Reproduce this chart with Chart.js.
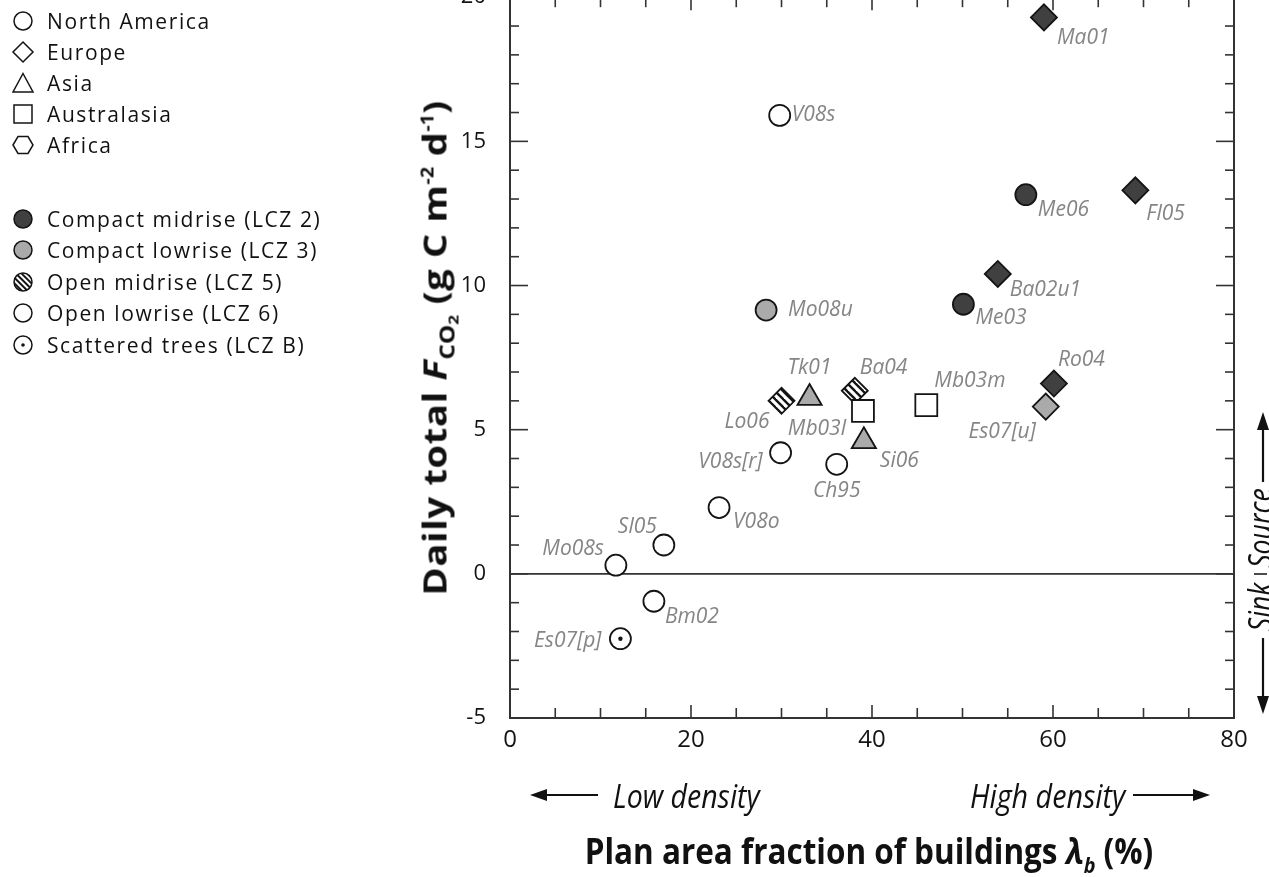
<!DOCTYPE html>
<html>
<head>
<meta charset="utf-8">
<title>Daily total FCO2 versus plan area fraction of buildings</title>
<script src="https://cdn.jsdelivr.net/npm/chart.js@4.4.1/dist/chart.umd.min.js"></script>
<style>
  html, body { margin: 0; padding: 0; background: #fff; }
  body { width: 1269px; height: 877px; position: relative; overflow: hidden; font-family: "Open Sans", sans-serif; color: #111; }
  #wrap { position: absolute; left: 0; top: -40px; width: 1269px; height: 917px; }
  .lg { position: absolute; left: 10px; height: 28px; display: flex; align-items: center; font-size: 21px; letter-spacing: 1.6px; white-space: nowrap; }
  .lg svg { width: 26px; height: 26px; margin-right: 11px; flex: none; }
  .fit { position: absolute; white-space: nowrap; }
  .ytitle { font-weight: 700; font-size: 33px; letter-spacing: 0.5px; }
  .ytitle sub { font-size: 21px; font-weight: 700; vertical-align: -8px; letter-spacing: 0; }
  .ytitle sup { font-size: 17px; font-weight: 700; vertical-align: 13px; letter-spacing: 0; }
  .xtitle { font-weight: 700; font-size: 35px; }
  .xtitle sub { font-size: 22px; font-style: italic; vertical-align: -9px; }
  .note { font-style: italic; font-size: 32px; }
  #arrows { position: absolute; left: 0; top: 0; pointer-events: none; }
</style>
</head>
<body>
<div id="wrap"><canvas id="chart"></canvas></div>
<div id="legend"></div>

<div class="fit ytitle" data-w="495" data-base="translate(-50%, -50%) rotate(-90deg)" style="left:437px; top:348px;">Daily total <i>F</i><sub>CO<sub style="font-size:15px;vertical-align:-4px">2</sub></sub> (g C m<sup>-2</sup> d<sup>-1</sup>)</div>
<div class="fit xtitle" data-w="568" data-base="translate(-50%, -50%)" style="left:869px; top:853px;">Plan area fraction of buildings <i>λ</i><sub>b</sub> (%)</div>

<div class="fit note" data-w="147" style="left:613px; top:795px;" data-base="translateY(-50%)">Low density</div>
<div class="fit note" data-w="155" style="left:970px; top:795px;" data-base="translateY(-50%)">High density</div>
<div class="fit note" data-w="80" data-base="translate(-50%, -50%) rotate(-90deg)" style="left:1259px; top:528px;">Source</div>
<div class="fit note" data-w="48" data-base="translate(-50%, -50%) rotate(-90deg)" style="left:1259px; top:607px;">Sink</div>

<svg id="arrows" width="1269" height="877">
  <g stroke="#111" stroke-width="2.2" fill="#111">
    <line x1="545" y1="795" x2="598" y2="795"/>
    <polygon points="530,795 547,789 547,801" stroke="none"/>
    <line x1="1133" y1="795" x2="1195" y2="795"/>
    <polygon points="1210,795 1193,789 1193,801" stroke="none"/>
    <line x1="1263" y1="428" x2="1263" y2="482"/>
    <polygon points="1263,412 1257,430 1269,430" stroke="none"/>
    <line x1="1263" y1="638" x2="1263" y2="698"/>
    <polygon points="1263,714 1257,696 1269,696" stroke="none"/>
    <line x1="1254" y1="574" x2="1267" y2="574" stroke-width="1.5"/>
  </g>
</svg>

<script>
// ---- data ----
const siteNames = ['Ma01', 'V08s', 'Me06', 'Fl05', 'Ba02u1', 'Me03', 'Mo08u', 'Ro04', 'Es07[u]', 'Lo06', 'Tk01',
  'Ba04', 'Mb03l', 'Mb03m', 'Si06', 'V08s[r]', 'Ch95', 'V08o', 'Sl05', 'Mo08s', 'Bm02', 'Es07[p]'];
const lambdaB = [59, 29.8, 57, 69.1, 53.9, 50.1, 28.3, 60.1, 59.2, 30, 33.1,
  38.1, 39, 46, 39.1, 29.9, 36.1, 23.1, 17, 11.7, 15.9, 12.2];
const fco2 = [19.3, 15.9, 13.15, 13.3, 10.4, 9.35, 9.15, 6.6, 5.8, 6.0, 6.1,
  6.35, 5.65, 5.85, 4.6, 4.2, 3.8, 2.3, 1.0, 0.3, -0.95, -2.25];
const siteRegion = ['Europe', 'North America', 'North America', 'Europe', 'Europe', 'North America', 'North America',
  'Europe', 'Europe', 'Europe', 'Asia', 'Europe', 'Australasia', 'Australasia', 'Asia', 'North America',
  'North America', 'North America', 'North America', 'North America', 'North America', 'North America'];
const siteLcz = ['LCZ 2', 'LCZ 6', 'LCZ 2', 'LCZ 2', 'LCZ 2', 'LCZ 2', 'LCZ 3', 'LCZ 2', 'LCZ 3', 'LCZ 5', 'LCZ 3',
  'LCZ 5', 'LCZ 6', 'LCZ 6', 'LCZ 3', 'LCZ 6', 'LCZ 6', 'LCZ 6', 'LCZ 6', 'LCZ 6', 'LCZ 6', 'LCZ B'];

const regionNames = ['North America', 'Europe', 'Asia', 'Australasia', 'Africa'];
const lczKeys = ['LCZ 2', 'LCZ 3', 'LCZ 5', 'LCZ 6', 'LCZ B'];
const lczNames = ['Compact midrise (LCZ 2)', 'Compact lowrise (LCZ 3)', 'Open midrise (LCZ 5)',
  'Open lowrise (LCZ 6)', 'Scattered trees (LCZ B)'];

const xTicks = [0, 20, 40, 60, 80];
const yTicks = [-5, 0, 5, 10, 15, 20];

// ---- styles ----
const DARK = '#404040';
const GREY = '#aaaaaa';
const INK = '#141414';

function hatch() {
  const c = document.createElement('canvas');
  c.width = 8; c.height = 8;
  const g = c.getContext('2d');
  g.fillStyle = '#fff';
  g.fillRect(0, 0, 8, 8);
  g.strokeStyle = INK;
  g.lineWidth = 2.4;
  for (const k of [-8, 0, 8]) {
    g.beginPath();
    g.moveTo(k - 1, -1);
    g.lineTo(k + 9, 9);
    g.stroke();
  }
  return g.createPattern(c, 'repeat');
}

const regionMarker = {
  'North America': { style: 'circle', r: 10.5 },
  'Europe': { style: 'rectRot', r: 13 },
  'Asia': { style: 'triangle', r: 14 },
  'Australasia': { style: 'rect', r: 15.5 },
};
const lczFill = { 'LCZ 2': DARK, 'LCZ 3': GREY, 'LCZ 5': hatch(), 'LCZ 6': '#fff', 'LCZ B': '#fff' };

// label offset from the marker centre: [dx, dy, align]
const labelPos = {
  'Ma01': [13, 21, 'left'], 'V08s': [12, 0, 'left'], 'Me06': [12, 15, 'left'], 'Fl05': [11, 24, 'left'],
  'Ba02u1': [12, 16, 'left'], 'Me03': [12, 14, 'left'], 'Mo08u': [22, 0, 'left'], 'Ro04': [4, -24, 'left'],
  'Es07[u]': [-10, 25, 'right'], 'Lo06': [-12, 21, 'right'], 'Tk01': [0, -30, 'center'], 'Ba04': [5, -23, 'left'],
  'Mb03l': [-17, 18, 'right'], 'Mb03m': [8, -24, 'left'], 'Si06': [16, 20, 'left'], 'V08s[r]': [-18, 9, 'right'],
  'Ch95': [0, 27, 'center'], 'V08o': [14, 14, 'left'], 'Sl05': [-7, -18, 'right'], 'Mo08s': [-12, -16, 'right'],
  'Bm02': [11, 16, 'left'], 'Es07[p]': [-19, 2, 'right'],
};

// ---- legend (html) ----
const svgNS = 'stroke="' + INK + '" stroke-width="1.5"';
const regionSvg = {
  'North America': '<circle cx="13" cy="13" r="9" fill="#fff" ' + svgNS + '/>',
  'Europe': '<polygon points="13,3 23,13 13,23 3,13" fill="#fff" ' + svgNS + '/>',
  'Asia': '<polygon points="13,3.5 23,22 3,22" fill="#fff" ' + svgNS + '/>',
  'Australasia': '<rect x="4" y="4" width="18" height="18" fill="#fff" ' + svgNS + '/>',
  'Africa': '<polygon points="3,13 8,4.5 18,4.5 23,13 18,21.5 8,21.5" fill="#fff" ' + svgNS + '/>',
};
const lczSvg = {
  'LCZ 2': '<circle cx="13" cy="13" r="9" fill="' + DARK + '" ' + svgNS + '/>',
  'LCZ 3': '<circle cx="13" cy="13" r="9" fill="' + GREY + '" ' + svgNS + '/>',
  'LCZ 5': '<defs><pattern id="hp" width="4" height="4" patternUnits="userSpaceOnUse" patternTransform="rotate(-45)">' +
    '<rect width="2" height="4" fill="' + INK + '"/></pattern></defs><circle cx="13" cy="13" r="9" fill="url(#hp)" ' + svgNS + '/>',
  'LCZ 6': '<circle cx="13" cy="13" r="9" fill="#fff" ' + svgNS + '/>',
  'LCZ B': '<circle cx="13" cy="13" r="9" fill="#fff" ' + svgNS + '/><circle cx="13" cy="13" r="1.8" fill="' + INK + '"/>',
};
const legendRowsY = [20.5, 51.7, 83, 113.5, 145, 218.5, 250, 281.5, 313, 345];
const legendEl = document.getElementById('legend');
const rows = regionNames.map(n => [regionSvg[n], n]).concat(lczKeys.map((k, i) => [lczSvg[k], lczNames[i]]));
rows.forEach(([svg, text], i) => {
  const d = document.createElement('div');
  d.className = 'lg';
  d.style.top = (legendRowsY[i] - 14) + 'px';
  d.innerHTML = '<svg viewBox="0 0 26 26">' + svg + '</svg><span>' + text + '</span>';
  legendEl.appendChild(d);
});

// squeeze the condensed-looking captions to the width they have in the figure
document.querySelectorAll('.fit').forEach(el => {
  const k = (+el.dataset.w) / el.offsetWidth;
  el.style.transformOrigin = el.dataset.base.includes('-50%, -50%') ? '50% 50%' : '0 50%';
  el.style.transform = el.dataset.base + ' scaleX(' + k.toFixed(3) + ')';
});

// ---- plugins ----
const frameTicks = {
  id: 'frameTicks',
  beforeDatasetsDraw(chart) {
    const { ctx, chartArea: a, scales: { x, y } } = chart;
    ctx.save();
    ctx.strokeStyle = '#333';
    ctx.lineWidth = 1.6;
    const seg = (x1, y1, x2, y2) => { ctx.beginPath(); ctx.moveTo(x1, y1); ctx.lineTo(x2, y2); ctx.stroke(); };
    const y0 = y.getPixelForValue(0);
    seg(a.left, y0, a.right, y0);
    ctx.lineWidth = 2;
    ctx.strokeRect(a.left, a.top, a.right - a.left, a.bottom - a.top);
    ctx.lineWidth = 1.6;
    for (let v = y.min; v <= y.max; v += 1) {
      const p = y.getPixelForValue(v);
      const len = v % 5 === 0 ? 18 : 9;
      seg(a.left, p, a.left + len, p);
      seg(a.right - len, p, a.right, p);
    }
    for (let v = x.min; v <= x.max; v += 5) {
      const p = x.getPixelForValue(v);
      const len = v % 20 === 0 ? 13 : 10;
      seg(p, a.bottom, p, a.bottom - len);
      seg(p, a.top, p, a.top + len);
    }
    ctx.restore();
  },
};

const siteLabels = {
  id: 'siteLabels',
  afterDatasetsDraw(chart) {
    const { ctx } = chart;
    const meta = chart.getDatasetMeta(0);
    ctx.save();
    meta.data.forEach((pt, i) => {
      if (siteLcz[i] === 'LCZ B') {
        ctx.fillStyle = INK;
        ctx.beginPath();
        ctx.arc(pt.x, pt.y, 2.2, 0, Math.PI * 2);
        ctx.fill();
      }
      const [dx, dy, align] = labelPos[siteNames[i]];
      ctx.font = 'italic 21px "Open Sans"';
      ctx.fillStyle = '#858585';
      ctx.textAlign = align;
      ctx.textBaseline = 'middle';
      ctx.fillText(siteNames[i], pt.x + dx, pt.y + dy);
    });
    ctx.restore();
  },
};

// ---- chart ----
Chart.defaults.font.family = '"Open Sans", sans-serif';
Chart.defaults.color = INK;

new Chart(document.getElementById('chart'), {
  type: 'scatter',
  data: {
    datasets: [{
      label: 'Daily total FCO2',
      data: lambdaB.map((v, i) => ({ x: v, y: fco2[i] })),
      pointStyle: ctx => regionMarker[siteRegion[ctx.dataIndex]].style,
      pointRadius: ctx => regionMarker[siteRegion[ctx.dataIndex]].r,
      backgroundColor: ctx => lczFill[siteLcz[ctx.dataIndex]],
      borderColor: INK,
      borderWidth: 1.8,
    }],
  },
  options: {
    responsive: true,
    maintainAspectRatio: false,
    animation: false,
    events: [],
    layout: { padding: { left: 0, right: 35, top: 3, bottom: 119 } },
    plugins: { legend: { display: false }, tooltip: { enabled: false } },
    scales: {
      x: {
        type: 'linear', min: 0, max: 80,
        afterBuildTicks: s => { s.ticks = xTicks.map(v => ({ value: v })); },
        afterFit: s => { s.height = 40; },
        grid: { display: false, drawTicks: false },
        border: { display: false },
        ticks: { padding: 8, color: INK, font: { size: 24 } },
      },
      y: {
        type: 'linear', min: -5, max: 20,
        afterBuildTicks: s => { s.ticks = yTicks.map(v => ({ value: v })); },
        afterFit: s => { s.width = 510; },
        grid: { display: false, drawTicks: false },
        border: { display: false },
        ticks: { padding: 24, color: INK, font: { size: 22 } },
      },
    },
  },
  plugins: [frameTicks, siteLabels],
});
</script>
</body>
</html>
